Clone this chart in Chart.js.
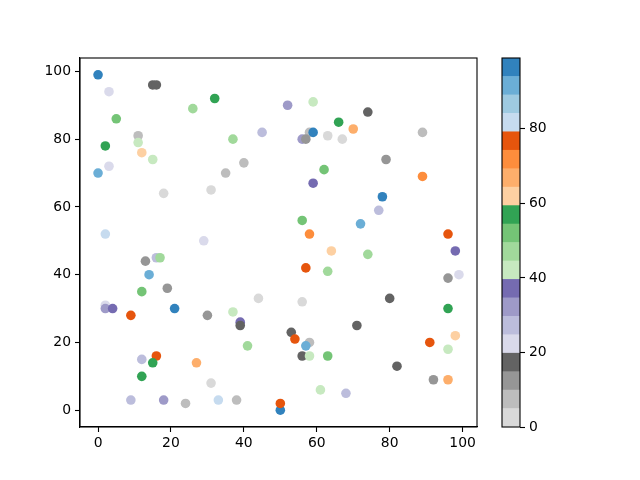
<!DOCTYPE html>
<html>
<head>
<meta charset="utf-8">
<script src="https://cdn.jsdelivr.net/npm/chart.js@4.4.0/dist/chart.umd.min.js"></script>
<style>
  html, body { margin: 0; padding: 0; background: #ffffff; }
  #wrap { position: relative; width: 640px; height: 480px; }
  #main { position: absolute; left: 0; top: 0; }
  #cbar { position: absolute; left: 480px; top: 0; }
</style>
</head>
<body>
<div id="wrap">
  <canvas id="main" width="640" height="480"></canvas>
  <canvas id="cbar" width="160" height="480"></canvas>
</div>
<script>
// ---- data ----
const xValues = [0,3,15,16,32,26,5,11,11,2,12,15,3,0,52,59,66,45,37,56,58,59,57,63,67,40,35,62,59,70,74,89,79,89,18,31,2,29,16,17,13,14,19,12,56,58,64,57,63,44,56,78,77,72,96,98,74,99,96,80,2,2,4,9,21,30,12,16,15,12,27,31,9,18,24,33,37,39,39,53,54,58,57,41,56,58,63,61,68,38,50,50,96,71,91,98,96,82,92,96];
const yValues = [99,94,96,96,92,89,86,81,79,78,76,74,72,70,90,91,85,82,80,80,82,82,80,81,80,73,70,71,67,83,88,82,74,69,64,65,52,50,45,45,44,40,36,35,56,52,47,42,41,33,32,63,59,55,52,47,46,40,39,33,31,30,30,28,30,28,15,16,14,10,14,0,3,3,2,3,29,26,25,23,21,20,19,19,16,16,16,6,5,3,0,2,30,25,20,22,18,13,9,9];
// fix order-sensitive points: (31,8) value
yValues[71] = 8;
const cValues = [99,22,17,17,57,47,52,7,42,57,62,42,22,92,32,42,57,27,47,32,7,97,12,2,2,7,7,52,37,67,17,7,12,72,2,2,82,22,27,47,12,92,12,52,52,72,62,77,47,2,2,97,27,92,77,37,47,22,12,17,22,32,37,77,97,12,27,77,57,57,67,0,27,32,7,82,42,37,17,17,77,7,92,47,17,42,52,42,27,7,97,77,57,17,77,62,42,17,12,67];
const xTicks = [0,20,40,60,80,100];
const yTicks = [0,20,40,60,80,100];
const cbarTicks = [0,20,40,60,80];
// tab20c reversed colormap (20 bins)
const cmapColors = ['#d9d9d9','#bdbdbd','#969696','#636363','#dadaeb','#bcbddc','#9e9ac8','#756bb1','#c7e9c0','#a1d99b','#74c476','#31a354','#fdd0a2','#fdae6b','#fd8d3c','#e6550d','#c6dbef','#9ecae1','#6baed6','#3182bd'];

const cMin = Math.min(...cValues), cMax = Math.max(...cValues);
function colorFor(v) {
  let idx = Math.floor((v - cMin) / (cMax - cMin) * cmapColors.length);
  if (idx >= cmapColors.length) idx = cmapColors.length - 1;
  if (idx < 0) idx = 0;
  return cmapColors[idx];
}

const points = xValues.map((x, i) => ({ x: x, y: yValues[i] }));
const pointColors = cValues.map(colorFor);

const FONT = { family: 'DejaVu Sans', size: 13.9 };

const boxPlugin = {
  id: 'box',
  afterDraw(chart) {
    const a = chart.chartArea, ctx = chart.ctx;
    ctx.save();
    ctx.strokeStyle = '#000';
    ctx.lineWidth = 1.1;
    ctx.strokeRect(a.left, a.top, a.right - a.left, a.bottom - a.top);
    ctx.restore();
  }
};

function setTicks(list) {
  return function (scale) { scale.ticks = list.map(v => ({ value: v })); };
}

new Chart(document.getElementById('main'), {
  type: 'scatter',
  data: {
    datasets: [{
      data: points,
      backgroundColor: pointColors,
      borderWidth: 0,
      pointRadius: 4.8,
      pointHoverRadius: 4.8
    }]
  },
  options: {
    responsive: false,
    animation: false,
    devicePixelRatio: 1,
    layout: { padding: { left: 0, right: 163, top: 58, bottom: 0 } },
    plugins: { legend: { display: false }, tooltip: { enabled: false } },
    scales: {
      x: {
        type: 'linear',
        min: -4.95, max: 103.95,
        afterBuildTicks: setTicks(xTicks),
        afterFit(scale) { scale.height = 53; },
        grid: { display: true, drawOnChartArea: false, drawTicks: true, tickLength: 5, tickWidth: 1.1, tickColor: '#000', color: '#000' },
        border: { display: true, color: '#000', width: 1.1 },
        ticks: { color: '#000', font: FONT, padding: 3, maxRotation: 0, autoSkip: false }
      },
      y: {
        type: 'linear',
        min: -4.95, max: 103.95,
        afterBuildTicks: setTicks(yTicks),
        afterFit(scale) { scale.width = 80; },
        grid: { display: true, drawOnChartArea: false, drawTicks: true, tickLength: 5, tickWidth: 1.1, tickColor: '#000', color: '#000' },
        border: { display: true, color: '#000', width: 1.1 },
        ticks: { color: '#000', font: FONT, padding: 4, autoSkip: false }
      }
    }
  },
  plugins: [boxPlugin]
});

// ---- colorbar as stacked bar chart ----
const binSize = (cMax - cMin) / cmapColors.length;
const cbarDatasets = cmapColors.map(col => ({
  data: [binSize],
  backgroundColor: col,
  borderWidth: 0,
  barPercentage: 1.0,
  categoryPercentage: 1.0
}));

new Chart(document.getElementById('cbar'), {
  type: 'bar',
  data: { labels: [''], datasets: cbarDatasets },
  options: {
    responsive: false,
    animation: false,
    devicePixelRatio: 1,
    layout: { padding: { left: 22, right: 0, top: 58, bottom: 53 } },
    plugins: { legend: { display: false }, tooltip: { enabled: false } },
    scales: {
      x: { display: false, stacked: true },
      y: {
        position: 'right',
        stacked: true,
        min: cMin, max: cMax,
        afterBuildTicks: setTicks(cbarTicks),
        afterFit(scale) { scale.width = 120; },
        grid: { display: true, drawOnChartArea: false, drawTicks: true, tickLength: 5, tickWidth: 1.1, tickColor: '#000' },
        border: { display: false },
        ticks: { color: '#000', font: FONT, padding: 4, autoSkip: false }
      }
    }
  },
  plugins: [boxPlugin]
});
</script>
</body>
</html>
